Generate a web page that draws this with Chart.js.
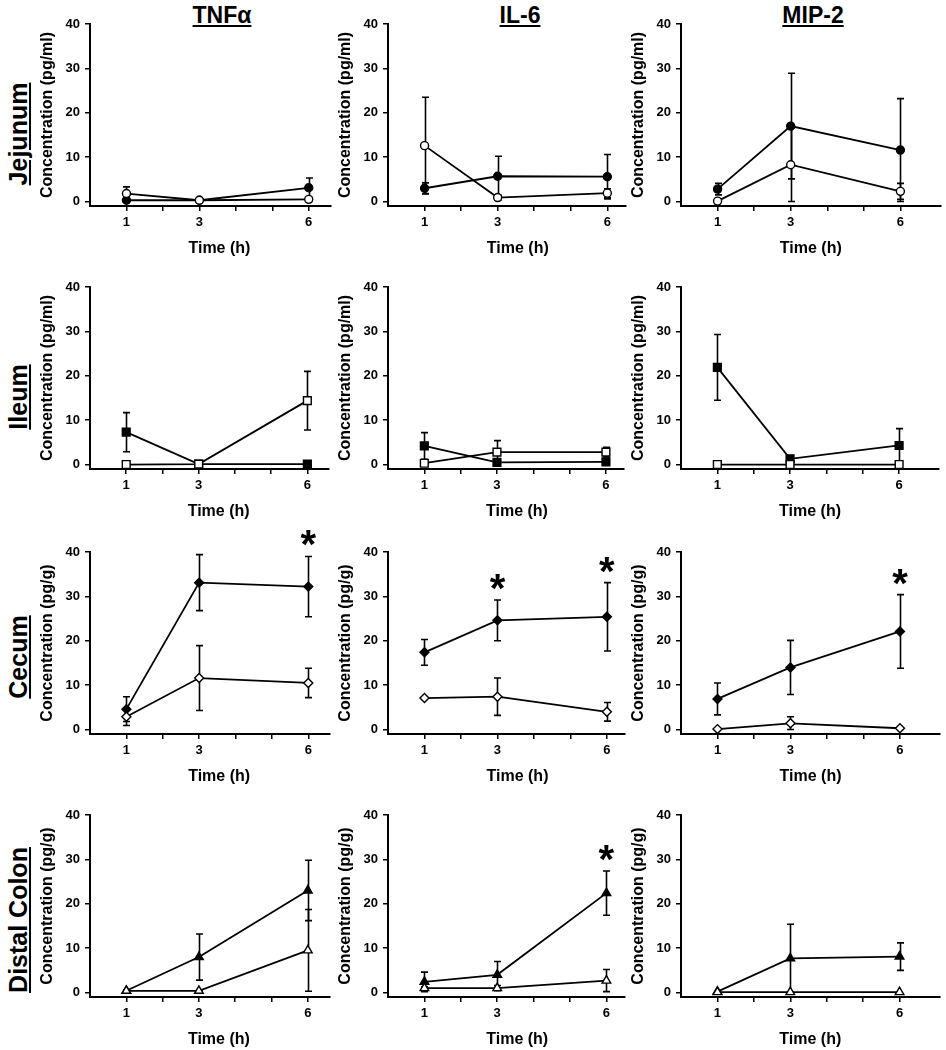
<!DOCTYPE html>
<html>
<head>
<meta charset="utf-8">
<script src="https://cdn.jsdelivr.net/npm/chart.js@4.4.1/dist/chart.umd.min.js"></script>
<style>
  body { margin: 0; background: #fff; }
  #fig { position: relative; width: 946px; height: 1050px; overflow: hidden;
         font-family: 'Liberation Sans', Arial, sans-serif; font-weight: bold; color: #000; }
  #fig canvas { position: absolute; }
  .colTitle { position: absolute; top: 0; width: 200px; margin-left: -100px; text-align: center;
              font-size: 23px; line-height: 30px; text-decoration: underline; }
  .rowTitle { position: absolute; left: 18px; white-space: nowrap; font-size: 25px; line-height: 28px;
              text-decoration: underline; transform: translate(-50%, -50%) rotate(-90deg); }
</style>
</head>
<body>
<div id="fig"></div>
<script>
// ---- data ----
const timePoints = [1, 3, 6];
const xTickLabels = ['1', '3', '6'];
const yTickValues = [0, 10, 20, 30, 40];
const tissues = ['Jejunum', 'Ileum', 'Cecum', 'Distal Colon'];
const cytokines = ['TNFα', 'IL-6', 'MIP-2'];
const units = ['pg/ml', 'pg/ml', 'pg/g', 'pg/g'];

// rows = TNFα, IL-6, MIP-2 ; columns = 1 h, 3 h, 6 h
const jejunumClosed    = [[0.3, 0.3, 3.1], [3.0, 5.7, 5.6], [2.8, 17.0, 11.6]];
const jejunumClosedErr = [[0.4, 0.2, 2.2], [1.2, 4.5, 5.0], [1.3, 11.9, 11.6]];
const jejunumOpen      = [[1.8, 0.3, 0.5], [12.6, 0.9, 1.9], [0.1, 8.3, 2.3]];
const jejunumOpenErr   = [[1.5, 0.2, 0.3], [10.9, 0.5, 1.0], [0.2, 8.3, 1.8]];

const ileumClosed    = [[7.3, 0.1, 0.1], [4.2, 0.5, 0.6], [21.9, 1.3, 4.3]];
const ileumClosedErr = [[4.4, 0, 0], [3.0, 0.3, 0.3], [7.4, 0.5, 3.8]];
const ileumOpen      = [[0.0, 0.1, 14.4], [0.3, 2.8, 2.8], [0.0, 0.0, 0.0]];
const ileumOpenErr   = [[0, 0, 6.6], [0.2, 2.6, 1.1], [0, 0, 0]];

const cecumClosed    = [[4.6, 33.1, 32.2], [17.4, 24.6, 25.4], [6.9, 14.0, 22.1]];
const cecumClosedErr = [[2.8, 6.3, 6.8], [2.9, 4.6, 7.7], [3.6, 6.1, 8.3]];
const cecumOpen      = [[2.9, 11.6, 10.5], [7.1, 7.4, 4.0], [0.1, 1.4, 0.3]];
const cecumOpenErr   = [[2.0, 7.3, 3.3], [0.3, 4.2, 2.1], [0.1, 1.5, 0.1]];

const colonClosed    = [[0.4, 8.0, 23.0], [2.4, 4.0, 22.4], [0.2, 7.7, 8.1]];
const colonClosedErr = [[0.2, 5.2, 6.8], [2.2, 3.0, 5.0], [0.1, 7.7, 3.1]];
const colonOpen      = [[0.4, 0.4, 9.5], [1.0, 1.0, 2.7], [0.1, 0.1, 0.1]];
const colonOpenErr   = [[0.2, 0.1, 9.2], [0.3, 0.6, 2.5], [0, 0, 0]];

// time points marked with * (significant)
const jejunumStars = [[], [], []];
const ileumStars = [[], [], []];
const cecumStars = [[6], [3, 6], [6]];
const colonStars = [[], [6], []];

// ---- layout ----
const axisLeft = [90, 388, 681];      // x pixel of each column's y axis
const axisTop = [24, 287, 552, 815];  // y pixel of the "40" line in each row
const pxPerHour = 37;
const xEnd = [6.6, 6.5, 7.1];
const markerStyle = ['circle', 'rect', 'rectRot', 'triangle'];
const markerSize = [4, 5.5, 4.5, 5];
const fontFamily = "'Liberation Sans', Arial, sans-serif";
const xAxisTitle = 'Time (h)';
const xTitleAt = 3.55;

const rows = [
  { closed: jejunumClosed, closedErr: jejunumClosedErr, open: jejunumOpen, openErr: jejunumOpenErr, stars: jejunumStars },
  { closed: ileumClosed, closedErr: ileumClosedErr, open: ileumOpen, openErr: ileumOpenErr, stars: ileumStars },
  { closed: cecumClosed, closedErr: cecumClosedErr, open: cecumOpen, openErr: cecumOpenErr, stars: cecumStars },
  { closed: colonClosed, closedErr: colonClosedErr, open: colonOpen, openErr: colonOpenErr, stars: colonStars }
];

Chart.defaults.font.family = fontFamily;
Chart.defaults.font.weight = 'bold';
Chart.defaults.color = '#000';

// error bars drawn under the markers
const errorBars = {
  id: 'errorBars',
  beforeDatasetsDraw(chart) {
    const { ctx, scales: { x, y } } = chart;
    ctx.save();
    ctx.strokeStyle = '#000';
    ctx.lineWidth = 1.6;
    chart.data.datasets.forEach(ds => {
      ds.data.forEach((p, i) => {
        const e = ds.errors[i];
        if (!e || e < 0.05) return;
        const px = Math.round(x.getPixelForValue(p.x)) + 0.5;
        const top = y.getPixelForValue(p.y + e);
        const bot = y.getPixelForValue(Math.max(0, p.y - e));
        ctx.beginPath();
        ctx.moveTo(px, top); ctx.lineTo(px, bot);
        ctx.moveTo(px - 3.5, top); ctx.lineTo(px + 3.5, top);
        ctx.moveTo(px - 3.5, bot); ctx.lineTo(px + 3.5, bot);
        ctx.stroke();
      });
    });
    ctx.restore();
  }
};

// significance asterisks + x axis title
const annotations = {
  id: 'annotations',
  afterDraw(chart, args, opts) {
    const { ctx, scales: { x, y }, chartArea } = chart;
    ctx.save();
    ctx.fillStyle = '#000';
    ctx.font = 'bold 16px ' + fontFamily;
    ctx.textAlign = 'center';
    ctx.textBaseline = 'middle';
    ctx.fillText(xAxisTitle, x.getPixelForValue(xTitleAt), chartArea.bottom + 43);

    ctx.font = 'bold 40px ' + fontFamily;
    ctx.textBaseline = 'alphabetic';
    const m = ctx.measureText('*');
    (opts.stars || []).forEach(t => {
      let topVal = 0;
      chart.data.datasets.forEach(ds => {
        const i = ds.data.findIndex(p => p.x === t);
        if (i >= 0) topVal = Math.max(topVal, ds.data[i].y + (ds.errors[i] || 0));
      });
      const cy = y.getPixelForValue(topVal) - 18;
      ctx.fillText('*', x.getPixelForValue(t), cy + (m.actualBoundingBoxAscent - m.actualBoundingBoxDescent) / 2);
    });
    ctx.restore();
  }
};

function makeDataset(means, errs, r, filled) {
  return {
    data: timePoints.map((t, i) => ({ x: t, y: means[i] })),
    errors: errs,
    borderColor: '#000',
    borderWidth: 1.8,
    tension: 0,
    fill: false,
    pointStyle: markerStyle[r],
    pointRadius: markerSize[r],
    pointHoverRadius: markerSize[r],
    pointBackgroundColor: filled ? '#000' : '#fff',
    pointBorderColor: '#000',
    pointBorderWidth: 1.4
  };
}

const fig = document.getElementById('fig');

cytokines.forEach((name, c) => {
  const d = document.createElement('div');
  d.className = 'colTitle';
  d.style.left = (axisLeft[c] + 132) + 'px';
  d.textContent = name;
  fig.appendChild(d);
});

tissues.forEach((name, r) => {
  const d = document.createElement('div');
  d.className = 'rowTitle';
  d.style.top = (axisTop[r] + (r < 2 ? 110 : 105)) + 'px';
  d.textContent = name;
  fig.appendChild(d);

  cytokines.forEach((cyto, c) => {
    const cv = document.createElement('canvas');
    const w = 90 + Math.round(pxPerHour * xEnd[c]) + 2;
    const h = 264;
    cv.width = w; cv.height = h;
    cv.style.left = (axisLeft[c] - 90) + 'px';
    cv.style.top = (axisTop[r] - 30) + 'px';
    fig.appendChild(cv);

    const row = rows[r];
    new Chart(cv.getContext('2d'), {
      type: 'line',
      data: {
        datasets: [
          makeDataset(row.open[c], row.openErr[c], r, false),
          makeDataset(row.closed[c], row.closedErr[c], r, true)
        ]
      },
      options: {
        responsive: false,
        animation: false,
        devicePixelRatio: 1,
        layout: { padding: { top: 30, right: 2, bottom: 0, left: 0 } },
        plugins: {
          legend: { display: false },
          tooltip: { enabled: false },
          annotations: { stars: row.stars[c] }
        },
        scales: {
          x: {
            type: 'linear',
            min: 0,
            max: xEnd[c],
            afterBuildTicks: s => { s.ticks = [1, 2, 3, 4, 5, 6].map(v => ({ value: v })); },
            afterFit: s => { s.height = 52; },
            ticks: {
              autoSkip: false,
              maxRotation: 0,
              padding: 4,
              font: { size: 13, weight: 'bold' },
              callback: v => { const i = timePoints.indexOf(v); return i >= 0 ? xTickLabels[i] : ''; }
            },
            grid: { drawOnChartArea: false, drawTicks: true, tickLength: 5, color: '#000', lineWidth: 1.5 },
            border: { display: true, color: '#000', width: 2 }
          },
          y: {
            min: -1,
            max: 40,
            afterBuildTicks: s => { s.ticks = yTickValues.map(v => ({ value: v })); },
            afterFit: s => { s.width = 90; },
            ticks: { padding: 5, font: { size: 13, weight: 'bold' } },
            grid: { drawOnChartArea: false, drawTicks: true, tickLength: 5, color: '#000', lineWidth: 1.5 },
            border: { display: true, color: '#000', width: 2 },
            title: {
              display: true,
              text: 'Concentration (' + units[r] + ')',
              font: { size: 16, weight: 'bold' },
              padding: { top: 38, bottom: 0 }
            }
          }
        }
      },
      plugins: [errorBars, annotations]
    });
  });
});
</script>
</body>
</html>
